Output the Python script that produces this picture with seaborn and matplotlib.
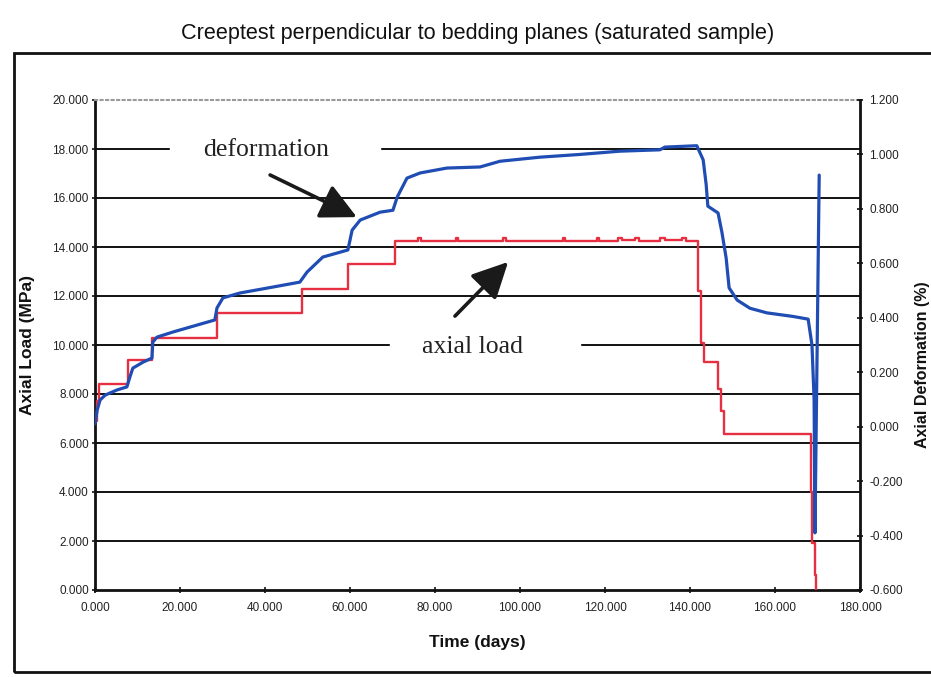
import matplotlib
matplotlib.use("Agg")
import matplotlib.pyplot as plt
from matplotlib.patches import Rectangle
from matplotlib.ticker import FormatStrFormatter
import seaborn as sns
import pandas as pd

# axial load (MPa), step readings: value holds from each time to the next
loadTime = [0.0, 0.4, 1.0, 7.8, 13.4, 28.7, 48.7, 59.5, 70.6, 76.0, 76.6, 85.0, 85.5,
            96.0, 96.6, 110.0, 110.6, 118.0, 118.5, 123.0, 124.0, 127.0, 128.0,
            133.0, 134.0, 138.0, 139.0, 141.9, 142.6, 143.4, 146.6, 147.4, 148.1,
            168.5, 168.8, 169.3, 169.6]
loadVal = [6.9, 7.7, 8.4, 9.4, 10.3, 11.3, 12.3, 13.3, 14.25, 14.38, 14.25, 14.35, 14.25,
           14.36, 14.25, 14.35, 14.25, 14.37, 14.25, 14.38, 14.28, 14.36, 14.25,
           14.36, 14.27, 14.35, 14.25, 12.2, 10.1, 9.3, 8.2, 7.3, 6.35,
           4.0, 1.9, 0.6, 0.0]

# axial deformation (%)
defTime = [0.0, 0.5, 1.2, 2.4, 5.2, 7.5, 8.2, 8.9, 11.3, 13.4, 13.6, 14.6, 18.4, 22.4,
           28.2, 28.7, 30.1, 34.1, 41.9, 48.2, 49.9, 53.6, 59.5, 60.5, 62.4, 67.1,
           70.1, 71.1, 73.4, 76.5, 82.8, 90.6, 95.3, 104.7, 114.1, 123.5, 132.9,
           134.1, 141.6, 143.1, 143.8, 144.2, 146.6, 147.5, 148.5, 149.2, 151.1,
           154.1, 158.1, 164.2, 167.8, 168.7, 169.2, 169.4, 170.4]
defVal = [0.01, 0.06, 0.098, 0.116, 0.135, 0.146, 0.182, 0.215, 0.237, 0.252, 0.311,
          0.329, 0.348, 0.366, 0.392, 0.436, 0.473, 0.491, 0.513, 0.531, 0.568, 0.623,
          0.649, 0.722, 0.759, 0.788, 0.795, 0.843, 0.913, 0.932, 0.95, 0.954, 0.975,
          0.99, 1.0, 1.012, 1.017, 1.027, 1.032, 0.98, 0.89, 0.81, 0.785, 0.715, 0.62,
          0.51, 0.465, 0.435, 0.418, 0.405, 0.395, 0.30, 0.10, -0.39, 0.924]

xTicks = list(range(0, 181, 20))
loadTicks = list(range(0, 21, 2))
defTicks = [-0.6, -0.4, -0.2, 0.0, 0.2, 0.4, 0.6, 0.8, 1.0, 1.2]

loadDf = pd.DataFrame({"time": loadTime, "load": loadVal})
defDf = pd.DataFrame({"time": defTime, "def": defVal})

sns.set_theme(style="white")
plt.rcParams["font.family"] = ["Liberation Sans", "DejaVu Sans"]

fig = plt.figure(figsize=(9.31, 6.77), dpi=100)
ax = fig.add_axes([95 / 931, 1 - 590 / 677, 765 / 931, 490 / 677])
ax2 = ax.twinx()

sns.lineplot(data=loadDf, x="time", y="load", ax=ax, color="#e63042", lw=1.7,
             drawstyle="steps-post", estimator=None, sort=False, zorder=4)
sns.lineplot(data=defDf, x="time", y="def", ax=ax2, color="#1f4db3", lw=2.3,
             estimator=None, sort=False, zorder=5)

ax.set_xlim(0, 180)
ax.set_ylim(0, 20)
ax2.set_ylim(-0.6, 1.2)
ax.set_xticks(xTicks)
ax.set_yticks(loadTicks)
ax2.set_yticks(defTicks)
for f in (ax.xaxis, ax.yaxis, ax2.yaxis):
    f.set_major_formatter(FormatStrFormatter("%.3f"))

ax.yaxis.grid(True, color="#111111", lw=1.4)
ax.set_axisbelow(True)
grid = ax.get_ygridlines()
grid[0].set_visible(False)
grid[-1].set_visible(False)

for s in ("left", "bottom"):
    ax.spines[s].set_color("#111111")
    ax.spines[s].set_linewidth(2)
ax.spines["right"].set_visible(False)
ax.spines["top"].set_color("#9a9a9a")
ax.spines["top"].set_linestyle(":")
ax.spines["top"].set_linewidth(1.5)
for s in ("left", "bottom", "top"):
    ax2.spines[s].set_visible(False)
ax2.spines["right"].set_color("#111111")
ax2.spines["right"].set_linewidth(2)

ax.tick_params(axis="both", bottom=True, left=True, direction="inout", length=5,
               width=1.2, color="#111111", labelsize=8.5, labelcolor="#222222")
ax.tick_params(axis="x", pad=6)
ax.tick_params(axis="y", pad=2)
ax2.tick_params(axis="y", right=True, direction="inout", length=5, width=1.2,
                color="#111111", labelsize=8.5, labelcolor="#222222", pad=4)

ax.set_xlabel("Time (days)", fontsize=12.5, fontweight="bold", color="#111111")
ax.xaxis.set_label_coords(0.5, -0.092)
ax.set_ylabel("Axial Load (MPa)", fontsize=12.5, fontweight="bold", color="#111111")
ax.yaxis.set_label_coords(-0.078, 0.5)
ax2.set_ylabel("Axial Deformation (%)", fontsize=11.5, fontweight="bold", color="#111111")
ax2.yaxis.set_label_coords(1.072, 0.46)

# white gaps where the labels break the gridlines
ax.add_patch(Rectangle((17.6, 17.55), 49.5, 0.9, color="white", zorder=2))
ax.add_patch(Rectangle((69.4, 9.55), 44.7, 0.9, color="white", zorder=2))

ax.text(40.2, 17.96, "deformation", family="Liberation Serif", fontsize=18.5,
        ha="center", va="center", color="#222222", zorder=6)
ax.text(88.9, 9.92, "axial load", family="Liberation Serif", fontsize=18.5,
        ha="center", va="center", color="#222222", zorder=6)

arrow = dict(arrowstyle="-|>,head_length=1.1,head_width=0.55", lw=2.6,
             color="#1a1a1a", mutation_scale=20, shrinkA=0, shrinkB=0)
ax.annotate("", xy=(61.6, 15.22), xytext=(41.2, 16.94), arrowprops=arrow, zorder=6)
ax.annotate("", xy=(97.2, 13.39), xytext=(84.7, 11.18), arrowprops=arrow, zorder=6)

fig.text(478 / 931, 1 - 33 / 677,
         "Creeptest perpendicular to bedding planes (saturated sample)",
         ha="center", va="center", fontsize=15.6, color="#111111")
fig.add_artist(Rectangle((14 / 931, 5 / 677), 1.0, (677 - 53 - 5) / 677,
                         transform=fig.transFigure, fill=False, lw=2, ec="#111111"))

fig.savefig("out.png", dpi=100)
